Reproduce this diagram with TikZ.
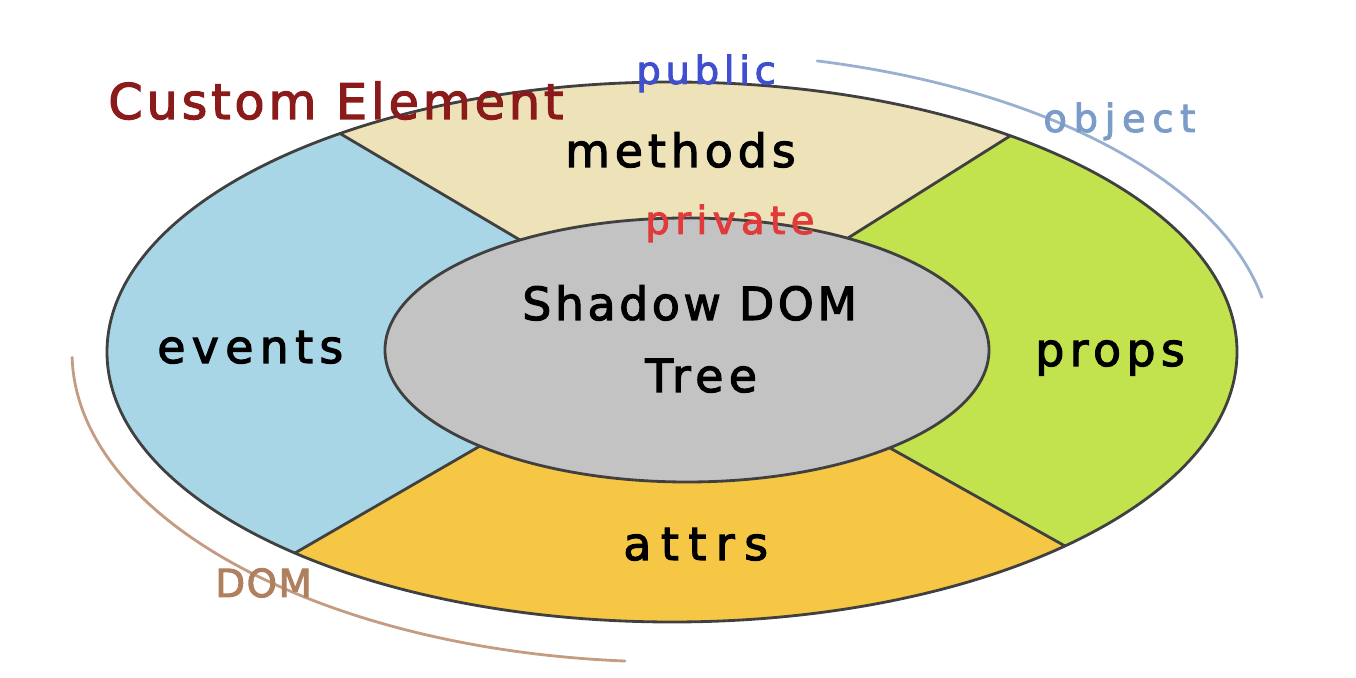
\documentclass[tikz,border=0pt]{standalone}
\usepackage{fontspec}
\setmainfont{DejaVu Sans}
\newfontfamily\fbase{DejaVu Sans}[FakeBold=2.5]
\newcommand\lblfont[2]{\fbase\fontsize{#1}{#1}\selectfont\addfontfeature{LetterSpace=#2}}
\definecolor{cmeth}{HTML}{EEE2B8}
\definecolor{cev}{HTML}{A8D6E6}
\definecolor{cprop}{HTML}{C2E24E}
\definecolor{cattr}{HTML}{F6C744}
\definecolor{cinner}{HTML}{C3C3C3}
\definecolor{ccustom}{HTML}{8B1A1A}
\definecolor{cpublic}{HTML}{3F4FD0}
\definecolor{cprivate}{HTML}{E03A3A}
\definecolor{cobject}{HTML}{7B9CC8}
\definecolor{cobjarc}{HTML}{9AB0D0}
\definecolor{cdom}{HTML}{B07F5E}
\definecolor{cdomarc}{HTML}{C49C82}
\begin{document}
\begin{tikzpicture}[x=0.02cm,y=-0.02cm,
  outline/.style={draw=black!75,line width=1.6pt},
  lbl/.style={inner sep=0pt,anchor=base west},
  sidearc/.style={line width=1.6pt,line cap=round}]
\useasboundingbox (0,0) rectangle (1356,678);
% divider points
\coordinate (C) at (687,350);
\coordinate (iTL) at (520,240);
\coordinate (oTL) at (340,133.5);
\coordinate (eTL) at (160,26);
\coordinate (iTR) at (848,238);
\coordinate (oTR) at (1010,136);
\coordinate (eTR) at (1172,34);
\coordinate (iBR) at (890,448);
\coordinate (oBR) at (1065,546);
\coordinate (eBR) at (1240,644);
\coordinate (iBL) at (480,446);
\coordinate (oBL) at (295,553);
\coordinate (eBL) at (110,660);
% sector fills
\begin{scope}
\clip (672,352) ellipse [x radius=565, y radius=270];
\fill[cev] (0,0) rectangle (1356,678);
\fill[cmeth] (C) -- (iTL) -- (eTL) -- (160,-100) -- (1172,-100) -- (eTR) -- (iTR) -- cycle;
\fill[cprop] (C) -- (iTR) -- (eTR) -- (1400,34) -- (1400,644) -- (eBR) -- (iBR) -- cycle;
\fill[cattr] (C) -- (iBR) -- (eBR) -- (1240,800) -- (110,800) -- (eBL) -- (iBL) -- cycle;
\end{scope}
% dividers
\draw[outline] (iTL) -- (oTL);
\draw[outline] (iTR) -- (oTR);
\draw[outline] (iBR) -- (oBR);
\draw[outline] (iBL) -- (oBL);
% ellipses
\draw[outline] (672,352) ellipse [x radius=565, y radius=270];
\draw[outline,fill=cinner] (687,350) ellipse [x radius=302, y radius=132];
% side arcs
\draw[sidearc,cobjarc] ([shift={(-76:600 and 300)}]672,352) arc [start angle=-76, end angle=-10.5, x radius=600, y radius=300];
\draw[sidearc,cdomarc] ([shift={(179:600 and 310)}]672,352) arc [start angle=179, end angle=94.5, x radius=600, y radius=310];
% labels
\node[lbl,text=ccustom,font=\lblfont{28}{8}] (custom) at (108,119) {Custom Element};
\node[lbl,text=cpublic,font=\lblfont{22}{12}] (public) at (636,84) {public};
\node[lbl,text=cobject,font=\lblfont{22}{17}] (object) at (1043,132) {object};
\node[lbl,text=cprivate,font=\lblfont{22}{14}] (private) at (645,234) {private};
\node[lbl,text=cdom,font=\lblfont{22}{4}] (dom) at (215,597) {DOM};
\node[lbl,font=\lblfont{26}{11}] (methods) at (565,167) {methods};
\node[lbl,font=\lblfont{26}{14}] (events) at (157,363) {events};
\node[lbl,font=\lblfont{26}{12}] (props) at (1035,366) {props};
\node[lbl,font=\lblfont{26}{21}] (attrs) at (623,560) {attrs};
\node[lbl,font=\lblfont{26}{8}] (shadow) at (522,320) {Shadow DOM};
\node[lbl,font=\lblfont{26}{12}] (tree) at (645,392) {Tree};
\end{tikzpicture}
\end{document}
